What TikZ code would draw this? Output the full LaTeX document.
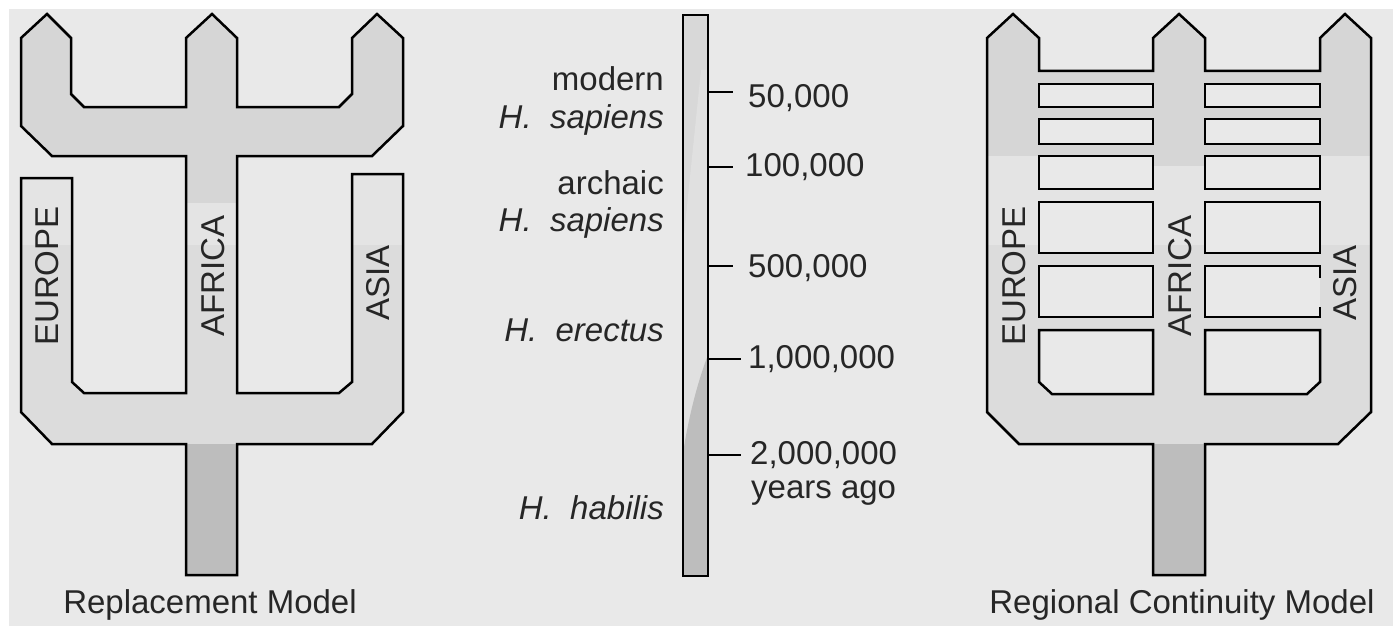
\documentclass[tikz,border=0pt]{standalone}
\usepackage{fontspec}
\setmainfont{Liberation Sans}
\definecolor{paper}{HTML}{E9E9E9}
\definecolor{upperband}{HTML}{D6D6D6}
\definecolor{midband}{HTML}{E4E4E4}
\definecolor{lowerband}{HTML}{DCDCDC}
\definecolor{rootband}{HTML}{BDBDBD}
\definecolor{barlight}{HTML}{E0E0E0}
\definecolor{bartop}{HTML}{D8D8D8}
\tikzset{
  outline/.style={draw=black, line width=2.5pt, line join=miter},
  hole/.style={outline, fill=paper},
  txt/.style={font=\fontsize{33}{37}\selectfont, inner sep=0pt, text=black!85},
  region/.style={txt, rotate=90, anchor=center},
  tick/.style={draw=black, line width=2.5pt},
}
\begin{document}
\begin{tikzpicture}[x=1pt, y=-1pt]
\useasboundingbox (0,0) rectangle (1400,626);
\fill[white] (0,0) rectangle (1400,626);
\fill[paper] (9,9) rectangle (1393,626);

% ---------- Replacement model: one outline, banded fill ----------
\draw[outline, path picture={
    \fill[midband] (0,0) rectangle (420,245);
    \fill[upperband] (0,0) rectangle (420,160);
    \fill[upperband] (186,160) rectangle (237,203);
    \fill[lowerband] (0,245) rectangle (420,444);
    \fill[rootband] (0,444) rectangle (420,600);
  }]
  (47,14) -- (71,38) -- (71,94) -- (84,107) -- (186,107) -- (186,38)
  -- (212,14) -- (237,38) -- (237,107) -- (339,107) -- (352,94) -- (352,38)
  -- (377,14) -- (403,38) -- (403,126) -- (372,156) -- (237,156)
  -- (237,393) -- (339,393) -- (352,382) -- (352,174) -- (403,174)
  -- (403,412) -- (372,444) -- (237,444) -- (237,575) -- (186,575)
  -- (186,444) -- (52,444) -- (21,412) -- (21,178) -- (72,178)
  -- (72,382) -- (84,393) -- (186,393) -- (186,156) -- (52,156)
  -- (21,126) -- (21,38) -- cycle;

\node[region] (rEurope) at (47,276) {EUROPE};
\node[region] (rAfrica) at (213,276) {AFRICA};
\node[region] (rAsia) at (378,283) {ASIA};
\node[txt, anchor=base] (rTitle) at (210,613) {Replacement Model};

% ---------- Time scale ----------
\fill[bartop] (683,15) rectangle (708,576);
\fill[barlight] (701,70) -- (708,70) -- (708,576) -- (683,576) -- (683,245) -- cycle;
\fill[rootband] (708,355) .. controls (700,375) and (690,410) .. (684,447)
  -- (683,576) -- (708,576) -- cycle;
\draw[outline] (683,15) rectangle (708,576);
\coordinate (bar) at (708,0);

\draw[tick] (bar |- 0,92) -- (733,92);
\draw[tick] (bar |- 0,167) -- (733,167);
\draw[tick] (bar |- 0,266) -- (733,266);
\draw[tick] (bar |- 0,359) -- (741,359);
\draw[tick] (bar |- 0,455) -- (741,455);

\node[txt, anchor=base west] (t1) at (748,107) {50,000};
\node[txt, anchor=base west] (t2) at (745,176) {100,000};
\node[txt, anchor=base west] (t3) at (748,277) {500,000};
\node[txt, anchor=base west] (t4) at (748,368) {1,000,000};
\node[txt, anchor=base west] (t5) at (750,464) {2,000,000};
\node[txt, anchor=base west] (t6) at (751,498) {years ago};

\node[txt, anchor=base east] (s1) at (664,91) {modern};
\node[txt, anchor=base east] (s2) at (664,128) {\itshape H.\ \ sapiens};
\node[txt, anchor=base east] (s3) at (664,194) {archaic};
\node[txt, anchor=base east] (s4) at (664,231) {\itshape H.\ \ sapiens};
\node[txt, anchor=base east] (s5) at (664,341) {\itshape H.\ \ erectus};
\node[txt, anchor=base east] (s6) at (664,519) {\itshape H.\ \ habilis};

% ---------- Regional continuity model ----------
\draw[outline, path picture={
    \fill[upperband] (970,0) rectangle (1400,156);
    \fill[upperband] (1153,156) rectangle (1205,166);
    \fill[midband] (970,156) rectangle (1153,245);
    \fill[midband] (1153,166) rectangle (1205,245);
    \fill[midband] (1205,156) rectangle (1400,245);
    \fill[lowerband] (970,245) rectangle (1400,444);
    \fill[rootband] (970,444) rectangle (1400,600);
  }]
  (1013,14) -- (1039,38) -- (1039,71) -- (1153,71) -- (1153,38)
  -- (1179,14) -- (1205,38) -- (1205,71) -- (1320,71) -- (1320,38)
  -- (1345,14) -- (1371,38) -- (1371,412) -- (1338,444) -- (1205,444)
  -- (1205,575) -- (1153,575) -- (1153,444) -- (1019,444) -- (987,412)
  -- (987,38) -- cycle;

% gene-flow rungs between the regions
\foreach \ya/\yb in {84/107, 119/144, 156/189, 202/253, 266/317} {
  \draw[hole] (1039,\ya) rectangle (1153,\yb);
}
\foreach \ya/\yb in {84/107, 119/144, 156/189, 202/253} {
  \draw[hole] (1205,\ya) rectangle (1320,\yb);
}
\fill[paper] (1205,266) rectangle (1320,317);
\draw[outline] (1320,278) -- (1320,266) -- (1205,266) -- (1205,317)
  -- (1320,317) -- (1320,307);
\draw[hole] (1039,330) -- (1153,330) -- (1153,394) -- (1052,394)
  -- (1039,382) -- cycle;
\draw[hole] (1205,330) -- (1320,330) -- (1320,382) -- (1307,394)
  -- (1205,394) -- cycle;

\node[region] (cEurope) at (1014,276) {EUROPE};
\node[region] (cAfrica) at (1180,276) {AFRICA};
\node[region] (cAsia) at (1345,283) {ASIA};
\node[txt, anchor=base] (cTitle) at (1182,613) {Regional Continuity Model};
\end{tikzpicture}
\end{document}
